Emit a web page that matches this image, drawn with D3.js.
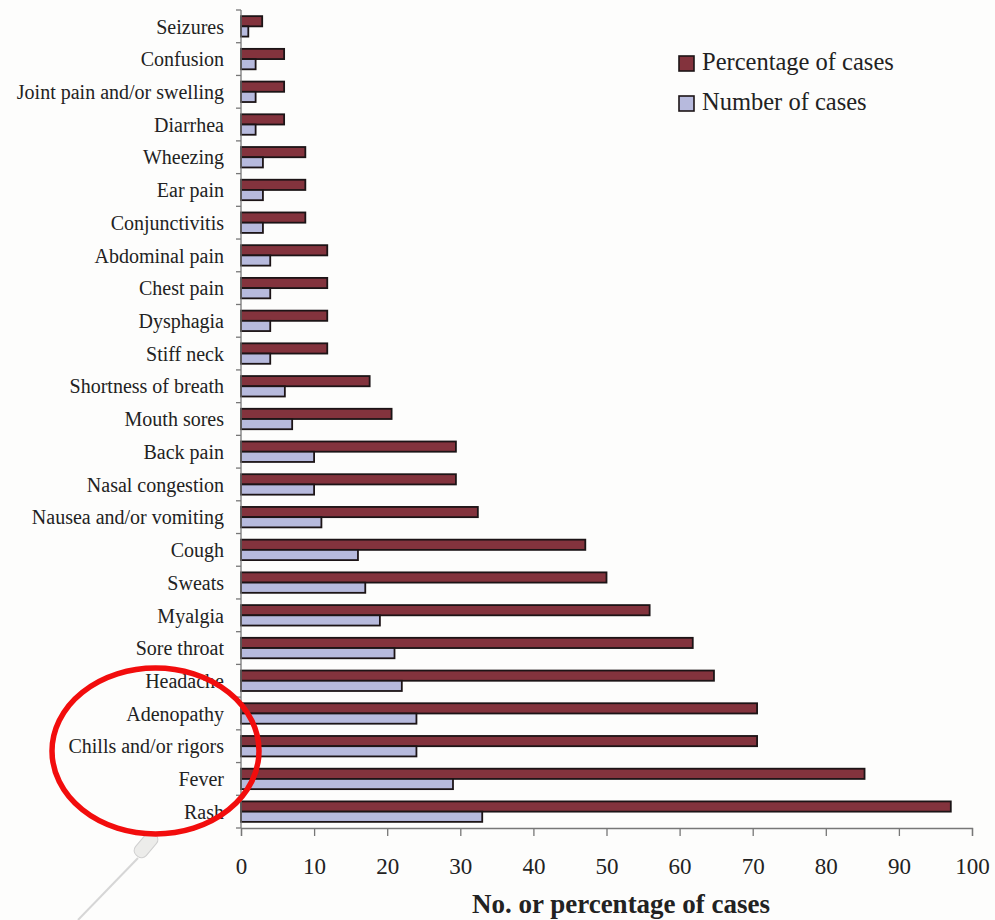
<!DOCTYPE html>
<html>
<head>
<meta charset="utf-8">
<script src="https://cdn.jsdelivr.net/npm/d3@7"></script>
<style>
  html, body { margin: 0; padding: 0; background: #fdfdfc; }
  svg { display: block; }
  text { font-family: "Liberation Serif", "Times New Roman", serif; }
</style>
</head>
<body>
<svg id="chart" width="995" height="920"></svg>
<script>
// ---- data (top to bottom) ----
const categories = [
  "Seizures", "Confusion", "Joint pain and/or swelling", "Diarrhea", "Wheezing",
  "Ear pain", "Conjunctivitis", "Abdominal pain", "Chest pain", "Dysphagia",
  "Stiff neck", "Shortness of breath", "Mouth sores", "Back pain", "Nasal congestion",
  "Nausea and/or vomiting", "Cough", "Sweats", "Myalgia", "Sore throat",
  "Headache", "Adenopathy", "Chills and/or rigors", "Fever", "Rash"
];
const percentageOfCases = [
  2.9, 5.9, 5.9, 5.9, 8.8,
  8.8, 8.8, 11.8, 11.8, 11.8,
  11.8, 17.6, 20.6, 29.4, 29.4,
  32.4, 47.1, 50.0, 55.9, 61.8,
  64.7, 70.6, 70.6, 85.3, 97.1
];
const numberOfCases = [
  1, 2, 2, 2, 3,
  3, 3, 4, 4, 4,
  4, 6, 7, 10, 10,
  11, 16, 17, 19, 21,
  22, 24, 24, 29, 33
];
const seriesNames = ["Percentage of cases", "Number of cases"];
const xTicks = [0, 10, 20, 30, 40, 50, 60, 70, 80, 90, 100];
const xTitle = "No. or percentage of cases";

// ---- styles ----
const colors = { "Percentage of cases": "#83333d", "Number of cases": "#b7badd" };
const barStroke = "#1c1416";
const textColor = "#222";
const axisColor = "#777";
const fontFam = '"Liberation Serif", "Times New Roman", serif';

const svg = d3.select("#chart");

const x = d3.scaleLinear().domain([0, 100]).range([241, 972]);
const y = d3.scaleBand().domain(categories).range([10, 828]).paddingInner(0).paddingOuter(0);
const ySub = d3.scaleBand().domain(seriesNames).range([0, y.bandwidth()]).paddingInner(0).paddingOuter(0.6);

const rows = categories.map((c, i) => ({
  cat: c,
  values: [
    { series: seriesNames[0], value: percentageOfCases[i] },
    { series: seriesNames[1], value: numberOfCases[i] }
  ]
}));

// bars
const g = svg.append("g");
const groups = g.selectAll("g.row").data(rows).join("g")
  .attr("class", "row")
  .attr("transform", d => `translate(0,${y(d.cat)})`);
groups.selectAll("rect").data(d => d.values).join("rect")
  .attr("x", x(0))
  .attr("y", d => ySub(d.series))
  .attr("width", d => x(d.value) - x(0))
  .attr("height", ySub.bandwidth())
  .attr("fill", d => colors[d.series])
  .attr("stroke", barStroke)
  .attr("stroke-width", 1.8);

// y axis: line + ticks at band boundaries
const yAxisG = svg.append("g");
yAxisG.append("line")
  .attr("x1", x(0)).attr("x2", x(0))
  .attr("y1", y.range()[0]).attr("y2", y.range()[1])
  .attr("stroke", axisColor).attr("stroke-width", 1.3);
const boundaries = categories.map(c => y(c)).concat([y.range()[1]]);
yAxisG.selectAll("line.tick").data(boundaries).join("line")
  .attr("class", "tick")
  .attr("x1", x(0) - 5).attr("x2", x(0))
  .attr("y1", d => d).attr("y2", d => d)
  .attr("stroke", axisColor).attr("stroke-width", 1.3);
yAxisG.selectAll("text").data(categories).join("text")
  .attr("x", 224)
  .attr("y", d => y(d) + y.bandwidth() / 2)
  .attr("dy", "0.36em")
  .attr("text-anchor", "end")
  .attr("fill", textColor)
  .attr("font-size", "20px")
  .text(d => d);

// x axis
const xAxis = d3.axisBottom(x).tickValues(xTicks).tickSize(8).tickPadding(22).tickSizeOuter(8);
const xAxisG = svg.append("g").attr("transform", `translate(0,${y.range()[1]})`).call(xAxis);
xAxisG.select(".domain").attr("stroke", axisColor).attr("stroke-width", 1.3);
xAxisG.selectAll(".tick line").attr("stroke", axisColor).attr("stroke-width", 1.3);
xAxisG.selectAll(".tick text")
  .attr("font-family", fontFam)
  .attr("font-size", "23px")
  .attr("fill", textColor);

svg.append("text")
  .attr("x", 621).attr("y", 913)
  .attr("text-anchor", "middle")
  .attr("font-size", "27px")
  .attr("font-weight", "bold")
  .attr("fill", textColor)
  .text(xTitle);

// legend
const legend = svg.append("g");
seriesNames.forEach((s, i) => {
  const ly = 56 + i * 40;
  legend.append("rect")
    .attr("x", 679).attr("y", ly)
    .attr("width", 15).attr("height", 15)
    .attr("fill", colors[s])
    .attr("stroke", barStroke).attr("stroke-width", 1.6);
  legend.append("text")
    .attr("x", 702).attr("y", ly + 14)
    .attr("font-size", "24.5px")
    .attr("fill", textColor)
    .text(s);
});

// annotation: red ellipse and pen
svg.append("line")
  .attr("x1", 78).attr("y1", 920).attr("x2", 138).attr("y2", 858)
  .attr("stroke", "#d6d6d6").attr("stroke-width", 2);
svg.append("rect")
  .attr("x", -7).attr("y", -14).attr("width", 14).attr("height", 28).attr("rx", 6)
  .attr("transform", "translate(146,845) rotate(40)")
  .attr("fill", "#ececea").attr("stroke", "#cfcfcf").attr("stroke-width", 1);
svg.append("ellipse")
  .attr("cx", 155.5).attr("cy", 751)
  .attr("rx", 103.5).attr("ry", 83)
  .attr("fill", "none")
  .attr("stroke", "#f20d0d")
  .attr("stroke-width", 5.5);
</script>
</body>
</html>
